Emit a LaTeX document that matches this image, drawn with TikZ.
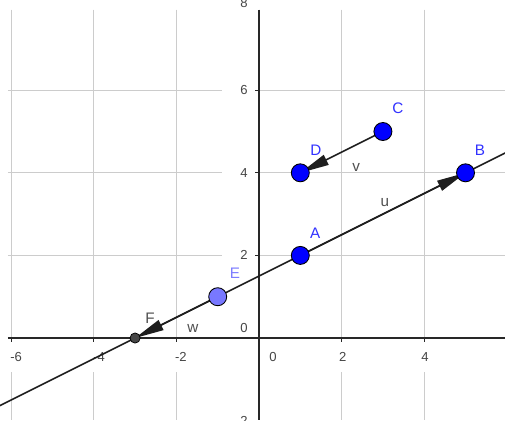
\documentclass[tikz,border=0pt]{standalone}
\usepackage{fontspec}
\setmainfont{Liberation Sans}
\usetikzlibrary{arrows.meta,calc}
\definecolor{gridc}{RGB}{204,204,204}
\definecolor{axisc}{RGB}{40,40,40}
\definecolor{numc}{RGB}{70,70,70}
\definecolor{ptblue}{RGB}{0,0,255}
\definecolor{lblblue}{RGB}{50,50,255}
\definecolor{elight}{RGB}{120,120,255}
\definecolor{elbl}{RGB}{125,125,255}
\definecolor{vecc}{RGB}{30,30,30}
\definecolor{vlbl}{RGB}{80,80,80}
\definecolor{fpt}{RGB}{70,70,70}
\begin{document}
\begin{tikzpicture}[x=1cm,y=1cm,
  gridline/.style={gridc,line width=0.75pt},
  axisline/.style={axisc,line width=1.3pt},
  tickline/.style={axisc,line width=0.9pt},
  numlbl/.style={font=\fontsize{9}{10}\selectfont,text=numc,inner sep=0pt},
  ptlbl/.style={font=\fontsize{10.5}{12}\selectfont,text=lblblue,inner sep=0pt},
  veclbl/.style={font=\fontsize{10.5}{12}\selectfont,text=vlbl,inner sep=0pt},
  lineobj/.style={vecc,line width=1.05pt},
  vecobj/.style={vecc,line width=1.05pt,-{Triangle[length=20pt,width=7.5pt]}},
  bigpt/.style={circle,draw=black,line width=0.6pt,fill=ptblue,minimum size=12.4pt,inner sep=0pt},
  lightpt/.style={circle,draw=black,line width=0.6pt,fill=elight,minimum size=12.4pt,inner sep=0pt},
  smallpt/.style={circle,draw=black,line width=0.5pt,fill=fpt,minimum size=7pt,inner sep=0pt}
]
\useasboundingbox (-6.271,-1.985) rectangle (5.956,8.184);
\fill[white] (-6.271,-1.985) rectangle (5.956,8.184);
% grid
\foreach \x in {-6,-4,-2,2,4} {
  \draw[gridline] (\x,7.95) -- (\x,0);
  \draw[gridline] (\x,-0.83) -- (\x,-1.985);
}
\foreach \y in {2,4,6} {
  \draw[gridline] (-6.08,\y) -- (-0.9,\y);
  \draw[gridline] (0,\y) -- (5.956,\y);
}
% axes
\coordinate (xl) at (-6.08,0);
\coordinate (xr) at (5.956,0);
\coordinate (yt) at (0,7.95);
\coordinate (yb) at (0,-1.985);
\draw[axisline] (xl) -- (xr);
\draw[axisline] (yt) -- (yb);
\foreach \x in {-6,-4,-2,2,4} \draw[tickline] (\x,0) -- (\x,-0.1);
\foreach \y in {2,4,6} \draw[tickline] (0,\y) -- (-0.1,\y);
% axis numbers
\node[numlbl] (xm6) at (-5.88,-0.46) {-6};
\node[numlbl] (xm4) at (-3.87,-0.46) {-4};
\node[numlbl] (xm2) at (-1.89,-0.46) {-2};
\node[numlbl] (x0) at (0.34,-0.46) {0};
\node[numlbl] (x2) at (2.03,-0.46) {2};
\node[numlbl] (x4) at (4.02,-0.46) {4};
\node[numlbl] (x6) at (6.08,-0.46) {6};
\node[numlbl,anchor=east] (ym2) at (-0.27,-2) {-2};
\node[numlbl,anchor=east] (y0) at (-0.27,0.24) {0};
\node[numlbl,anchor=east] (y2) at (-0.27,2) {2};
\node[numlbl,anchor=east] (y4) at (-0.27,4) {4};
\node[numlbl,anchor=east] (y6) at (-0.27,6) {6};
\node[numlbl,anchor=east] (y8) at (-0.27,8.1) {8};
% points
\coordinate (A) at (1,2);
\coordinate (B) at (5,4);
\coordinate (C) at (3,5);
\coordinate (D) at (1,4);
\coordinate (E) at (-1,1);
\coordinate (F) at (-3,0);
% line through A and B
\begin{scope}
\clip (-6.271,-1.985) rectangle (5.956,8.184);
\draw[lineobj] ($(A)!-2!(B)$) -- ($(A)!2!(B)$);
\end{scope}
% vectors
\draw[vecobj] (A) -- (B);
\draw[vecobj] (C) -- (D);
\draw[vecobj] (E) -- (F);
% point markers
\node[bigpt] (pA) at (A) {};
\node[bigpt] (pB) at (B) {};
\node[bigpt] (pC) at (C) {};
\node[bigpt] (pD) at (D) {};
\node[lightpt] (pE) at (E) {};
\node[smallpt] (pF) at (F) {};
% labels
\node[ptlbl] (lA) at (1.36,2.54) {A};
\node[ptlbl] (lB) at (5.35,4.55) {B};
\node[ptlbl] (lC) at (3.36,5.57) {C};
\node[ptlbl] (lD) at (1.38,4.55) {D};
\node[ptlbl,text=elbl] (lE) at (-0.58,1.57) {E};
\node[veclbl] (lF) at (-2.64,0.48) {F};
\node[veclbl] (lu) at (3.05,3.27) {u};
\node[veclbl] (lv) at (2.35,4.14) {v};
\node[veclbl] (lw) at (-1.6,0.24) {w};
\end{tikzpicture}
\end{document}
